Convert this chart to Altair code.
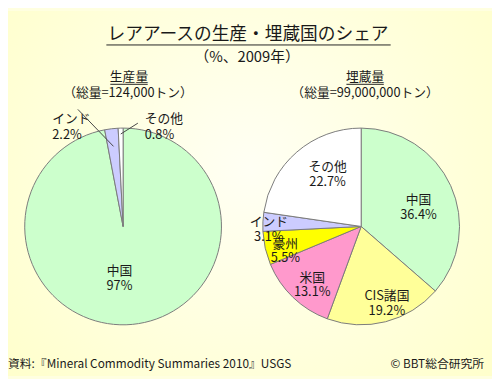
import math
import json
import altair as alt
import pandas as pd

# ---- data ----
prod_cats = ["中国", "インド", "その他"]
prod_vals = [97, 2.2, 0.8]
res_cats = ["中国", "CIS諸国", "米国", "豪州", "インド", "その他"]
res_vals = [36.4, 19.2, 13.1, 5.5, 3.1, 22.7]
color_domain = ["中国", "CIS諸国", "米国", "豪州", "インド", "その他"]
color_range = ["#ccffcc", "#ffff99", "#ff99cc", "#ffff00", "#ccccff", "#ffffff"]

title = "レアアースの生産・埋蔵国のシェア"
subtitle = "（%、2009年）"
prod_title = "生産量"
prod_sub = "（総量=124,000トン）"
res_title = "埋蔵量"
res_sub = "（総量=99,000,000トン）"
source = "資料:『Mineral Commodity Summaries 2010』USGS"
credit = "© BBT総合研究所"

W, H = 492, 371
FONT = "Noto Sans CJK JP"
TXT = "#1a1a1a"
LC = (117, 219)
RC = (359, 219)
R = 100


def frame(cats, vals):
    return pd.DataFrame({
        "cat": cats,
        "value": vals,
        "order": list(range(len(cats))),
        "label": [f"{c}\n{v:g}%" for c, v in zip(cats, vals)],
    })


prod = frame(prod_cats, prod_vals)
res = frame(res_cats, res_vals)
dummy = pd.DataFrame({"a": [0]})

color = alt.Color("cat:N", scale=alt.Scale(domain=color_domain, range=color_range), legend=None)
theta = alt.Theta("value:Q", stack=True, scale=alt.Scale(domain=[0, 100]))


def pie(df, c):
    return alt.Chart(df).mark_arc(outerRadius=R, stroke="#7a7a7a", strokeWidth=1).encode(
        theta=theta, color=color, order=alt.Order("order:Q"),
        x=alt.value(c[0]), y=alt.value(c[1]))


def labels(df, c, cats, r, dx=0, dy=0):
    test = f"indexof({json.dumps(cats, ensure_ascii=False)}, datum.cat) >= 0"
    return alt.Chart(df).mark_text(
        radius=r, dx=dx, dy=dy, lineBreak="\n", font=FONT, fontSize=13,
        color=TXT, align="center", baseline="middle", lineHeight=15,
    ).encode(
        theta=theta, order=alt.Order("order:Q"),
        text=alt.condition(test, alt.Text("label:N"), alt.value("")),
        x=alt.value(c[0]), y=alt.value(c[1]))


def text(s, x, y, size=13, align="center", baseline="middle"):
    return alt.Chart(dummy).mark_text(
        font=FONT, fontSize=size, color=TXT, align=align, baseline=baseline, lineBreak="\n", lineHeight=16,
    ).encode(x=alt.value(x), y=alt.value(y), text=alt.value(s))


def rule(x1, y1, x2, y2, color="#333333", width=1.0):
    return alt.Chart(dummy).mark_rule(color=color, strokeWidth=width).encode(
        x=alt.value(x1), y=alt.value(y1), x2=alt.value(x2), y2=alt.value(y2))


# background gradient
bg = alt.Chart(dummy).mark_rect(color={
    "gradient": "radial", "x1": 0.5, "y1": 0.45, "r1": 0.0, "x2": 0.5, "y2": 0.45, "r2": 0.75,
    "stops": [{"offset": 0, "color": "#fffff4"}, {"offset": 1, "color": "#ffffc6"}],
}).encode(x=alt.value(0), x2=alt.value(W), y=alt.value(0), y2=alt.value(H))


# leader lines for the small production slices (from slice mid-angles)
def slice_point(cats, vals, cat, c, r):
    i = cats.index(cat)
    start = sum(vals[:i])
    mid = (start + vals[i] / 2) / 100 * 2 * math.pi
    return c[0] + r * math.sin(mid), c[1] - r * math.cos(mid)


ix, iy = slice_point(prod_cats, prod_vals, "インド", LC, 82)
ox, oy = slice_point(prod_cats, prod_vals, "その他", LC, 94)

layers = [
    bg,
    pie(prod, LC),
    pie(res, RC),
    labels(prod, LC, ["中国"], 46, dx=-8),
    labels(res, RC, ["中国"], 64),
    labels(res, RC, ["CIS諸国"], 73, dx=8),
    labels(res, RC, ["米国"], 72),
    labels(res, RC, ["豪州"], 79),
    labels(res, RC, ["インド"], 94),
    labels(res, RC, ["その他"], 69, dx=11, dy=-8),
    # external labels for production pie
    text("インド\n2.2%", 45, 110, align="left"),
    text("その他\n0.8%", 139, 110, align="left"),
    rule(71, 100, ix, iy, color="#444444"),
    rule(132, 114, ox, oy, color="#444444"),
    # titles
    text(title, 244, 24, size=18),
    rule(100, 34.5, 389, 34.5, color="#222222"),
    text(subtitle, 243, 47, size=15),
    text(prod_title, 123, 67),
    rule(104, 74.5, 142, 74.5, color="#222222"),
    text(prod_sub, 122, 83),
    text(res_title, 363, 67),
    rule(344, 74.5, 382, 74.5, color="#222222"),
    text(res_sub, 363, 83),
    # footer
    text(source, 0, 359, size=12, align="left"),
    text(credit, 484, 359, size=12, align="right"),
]

chart = alt.layer(*layers).properties(
    width=W, height=H, padding=0, background="#ffffe0",
    autosize=alt.AutoSizeParams(type="none"),
).configure_view(stroke=None)

chart.save("out.html", embed_options={"renderer": "svg", "actions": False})
